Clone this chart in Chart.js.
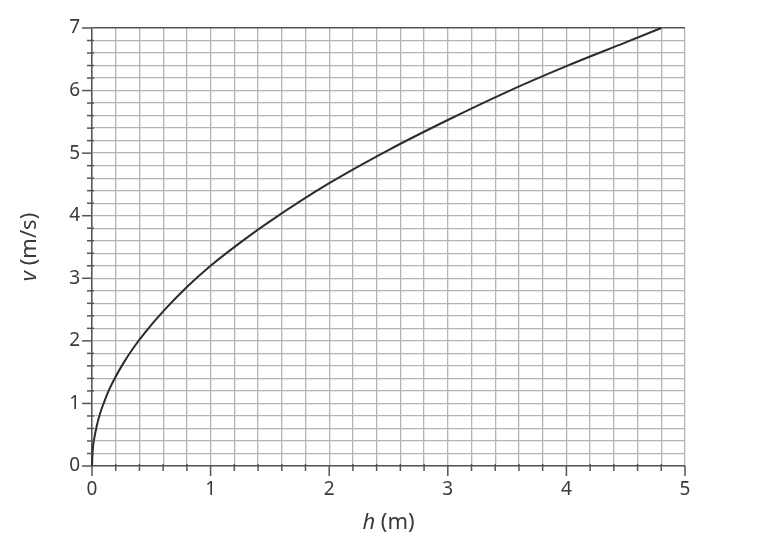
<!DOCTYPE html>
<html>
<head>
<meta charset="utf-8">
<script src="https://cdn.jsdelivr.net/npm/chart.js@4"></script>
<style>
  html, body { margin: 0; padding: 0; background: #fff; }
  #wrap { width: 775px; height: 559px; }
</style>
</head>
<body>
<div id="wrap"><canvas id="chart" width="775" height="559"></canvas></div>
<script>
// Data
const hValues = [0, 0.005, 0.02, 0.04, 0.07, 0.1, 0.14, 0.2, 0.27, 0.35, 0.45, 0.6, 0.8, 1, 1.25, 1.5, 2, 2.5, 3, 3.5, 4, 4.5, 4.8];
const vValues = [0, 0.23, 0.45, 0.64, 0.85, 1.01, 1.2, 1.43, 1.66, 1.89, 2.14, 2.47, 2.86, 3.2, 3.57, 3.91, 4.52, 5.05, 5.53, 5.98, 6.39, 6.77, 7.0];
const xTickLabels = ['0', '1', '2', '3', '4', '5'];
const yTickLabels = ['0', '1', '2', '3', '4', '5', '6', '7'];

const FONT = '"Noto Sans", "Open Sans", sans-serif';
const TEXT = '#3a3a3a';
const AXIS = '#555';
const GRID = '#b4b4b4';

const isMajor = v => Math.abs(v - Math.round(v)) < 1e-6;

// ticks on the axes + titles with italic variable
const decor = {
    id: 'decor',
    afterDraw(chart) {
        const ctx = chart.ctx;
        const x = chart.scales.x, y = chart.scales.y;
        const area = chart.chartArea;
        ctx.save();
        ctx.strokeStyle = AXIS;
        ctx.lineWidth = 1.5;
        // y ticks
        for (let i = 0; i <= 35; i++) {
            const v = i / 5;
            const py = y.getPixelForValue(v);
            ctx.beginPath();
            if (isMajor(v)) { ctx.moveTo(area.left - 10, py); ctx.lineTo(area.left, py); }
            else { ctx.moveTo(area.left - 5, py); ctx.lineTo(area.left + 2, py); }
            ctx.stroke();
        }
        // x ticks
        for (let i = 0; i <= 25; i++) {
            const v = i / 5;
            const px = x.getPixelForValue(v);
            ctx.beginPath();
            if (isMajor(v)) { ctx.moveTo(px, area.bottom); ctx.lineTo(px, area.bottom + 10); }
            else { ctx.moveTo(px, area.bottom - 2); ctx.lineTo(px, area.bottom + 5); }
            ctx.stroke();
        }
        // titles
        ctx.fillStyle = TEXT;
        ctx.textBaseline = 'middle';
        const drawTitle = (varName, rest) => {
            ctx.font = 'italic 22px ' + FONT;
            const w1 = ctx.measureText(varName).width;
            ctx.font = '22px ' + FONT;
            const w2 = ctx.measureText(rest).width;
            const start = -(w1 + w2) / 2;
            ctx.textAlign = 'left';
            ctx.font = 'italic 22px ' + FONT;
            ctx.fillText(varName, start, 0);
            ctx.font = '22px ' + FONT;
            ctx.fillText(rest, start + w1, 0);
        };
        ctx.save();
        ctx.translate((area.left + area.right) / 2, 523);
        drawTitle('h', ' (m)');
        ctx.restore();
        ctx.save();
        ctx.translate(30, (area.top + area.bottom) / 2);
        ctx.rotate(-Math.PI / 2);
        drawTitle('v', ' (m/s)');
        ctx.restore();
        ctx.restore();
    }
};

new Chart(document.getElementById('chart'), {
    type: 'scatter',
    data: {
        datasets: [{
            data: hValues.map((h, i) => ({ x: h, y: vValues[i] })),
            showLine: true,
            borderColor: '#2b2b2b',
            borderWidth: 2,
            pointRadius: 0,
            cubicInterpolationMode: 'monotone',
            clip: false
        }]
    },
    options: {
        responsive: false,
        animation: false,
        layout: { padding: { left: 0, top: 28, right: 90, bottom: 0 } },
        plugins: { legend: { display: false }, tooltip: { enabled: false } },
        scales: {
            x: {
                type: 'linear', min: 0, max: 5,
                afterFit: s => { s.height = 93; },
                ticks: {
                    stepSize: 0.2, autoSkip: false, padding: 12, maxRotation: 0,
                    color: TEXT, font: { family: FONT, size: 19 },
                    callback: v => isMajor(v) ? xTickLabels[Math.round(v)] : ''
                },
                grid: {
                    drawTicks: false,
                    color: GRID, lineWidth: 1.3
                },
                border: { color: AXIS, width: 1.5 }
            },
            y: {
                type: 'linear', min: 0, max: 7,
                afterFit: s => { s.width = 92; },
                ticks: {
                    stepSize: 0.2, autoSkip: false, padding: 12,
                    color: TEXT, font: { family: FONT, size: 19 },
                    callback: v => isMajor(v) ? yTickLabels[Math.round(v)] : ''
                },
                grid: {
                    drawTicks: false,
                    color: c => (c.tick && Math.abs(c.tick.value - 7) < 1e-6) ? AXIS : GRID,
                    lineWidth: c => (c.tick && Math.abs(c.tick.value - 7) < 1e-6) ? 1.5 : 1.3
                },
                border: { color: AXIS, width: 1.5 }
            }
        }
    },
    plugins: [decor]
});
</script>
</body>
</html>
